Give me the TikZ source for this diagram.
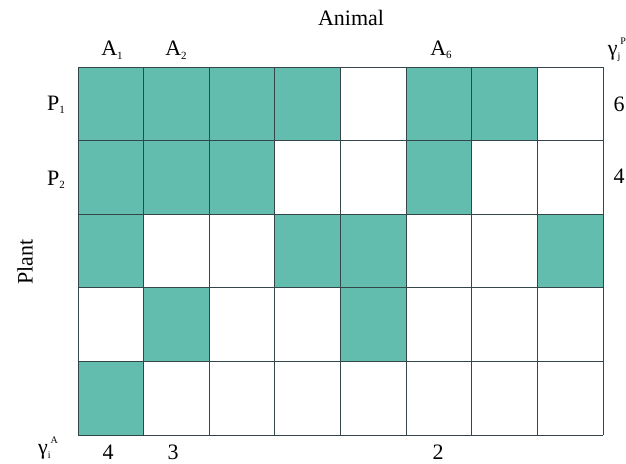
\documentclass[tikz,border=0pt]{standalone}
\usepackage{fontspec}
\setmainfont{Liberation Serif}

\definecolor{cellgreen}{HTML}{63BDAE}
\definecolor{gridline}{HTML}{33474A}

% small index placed under a letter
\newcommand{\lowidx}[1]{\raisebox{-0.35ex}{\fontsize{11}{11}\selectfont #1}}
% index pair after a letter: lower one first, upper one just right of it
\newcommand{\idx}[1]{\fontsize{10}{10}\selectfont #1}
\newcommand{\twoidx}[3]{#1\raisebox{-4.5pt}{\idx{#3}}\raisebox{10.5pt}{\idx{#2}}}

\begin{document}
\begin{tikzpicture}[x=1pt,y=-1pt,
  every node/.style={font=\fontsize{22}{26}\selectfont, inner sep=0pt},
  cellline/.style={gridline, line width=0.8pt}]

  \useasboundingbox (0,0) rectangle (626,463);

  % Grid origin and cell size
  \def\gx{78}
  \def\gy{67}
  \def\w{65.625}
  \def\h{73.6}

  % Filled cells (row / columns)
  \foreach \r/\cols in {1/{1,2,3,4,6,7},2/{1,2,3,6},3/{1,4,5,8},4/{2,5},5/{1}} {
    \foreach \c in \cols {
      \fill[cellgreen] ({\gx+(\c-1)*\w},{\gy+(\r-1)*\h}) rectangle ++(\w,\h);
    }
  }

  % Grid lines
  \foreach \c in {0,...,8} {
    \draw[cellline] ({\gx+\c*\w},\gy) -- ++(0,{5*\h});
  }
  \foreach \r in {0,...,5} {
    \draw[cellline] (\gx,{\gy+\r*\h}) -- ++({8*\w},0);
  }

  % Labels
  \node (animal) at (351,18) {Animal};
  \node[rotate=90] (plant) at (25,262) {Plant};

  \node (a1) at (112,50) {A\lowidx{1}};
  \node (a2) at (176,50) {A\lowidx{2}};
  \node (a6) at (441,50) {A\lowidx{6}};
  \node (p1) at (56,105) {P\lowidx{1}};
  \node (p2) at (56,180) {P\lowidx{2}};

  \node (gp) at (617,50) {\twoidx{γ}{P}{j}};
  \node (ga) at (48,448) {\twoidx{γ}{A}{i}};

  % Degrees
  \node (dp1) at (619,104) {6};
  \node (dp2) at (619,176) {4};
  \node (da1) at (108,452) {4};
  \node (da2) at (173,452) {3};
  \node (da6) at (438,452) {2};

\end{tikzpicture}
\end{document}
